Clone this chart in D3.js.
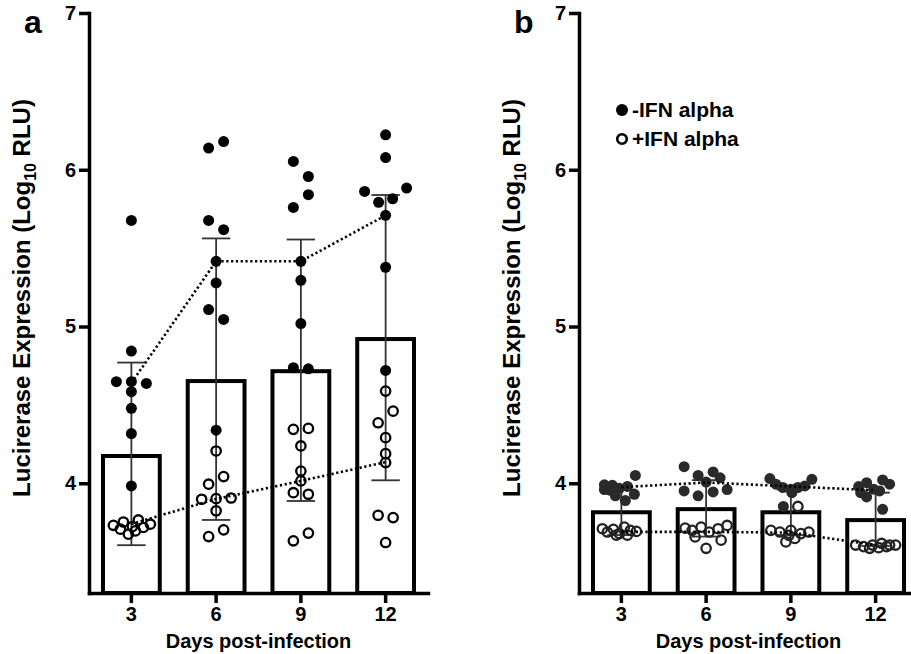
<!DOCTYPE html>
<html>
<head>
<meta charset="utf-8">
<script src="https://cdn.jsdelivr.net/npm/d3@7/dist/d3.min.js"></script>
<style>
  body { margin: 0; background: #fff; }
  text { font-family: "Liberation Sans", Arial, sans-serif; font-weight: bold; }
</style>
</head>
<body>
<svg id="chart" width="911" height="654"></svg>
<script>
const days = ['3', '6', '9', '12'];
const yTicks = [4, 5, 6, 7];
const legendLabels = ['-IFN alpha', '+IFN alpha'];

// panel a: each point is [log10 RLU, jitter in dot widths]
const aMinus = [
  [[5.677, 0], [4.843, 0], [4.648, -1.5], [4.648, 0], [4.637, 1.5], [4.584, 0], [4.478, 0], [4.317, 0], [3.983, 0]],
  [[6.138, -0.75], [6.18, 0.75], [5.677, -0.75], [5.618, 0.75], [5.416, 0], [5.278, 0], [5.108, -0.75], [5.045, 0.75], [4.339, 0]],
  [[6.053, -0.75], [5.957, 0.75], [5.841, 0.75], [5.76, -0.75], [5.416, 0], [5.295, 0], [5.019, 0], [4.737, -0.75], [4.73, 0.75]],
  [[6.223, 0], [6.078, 0], [5.862, -2.1], [5.883, 2.1], [5.792, -0.7], [5.815, 0.7], [5.709, 0], [5.378, 0], [4.72, 0]]
];
const aPlus = [
  [[3.732, -1.8], [3.753, -0.8], [3.675, -0.3], [3.724, 0.1], [3.766, 0.7], [3.718, 1.2], [3.739, 1.9], [3.707, -1.1], [3.696, 0.4]],
  [[4.206, 0], [3.994, -0.75], [4.043, 0.75], [3.898, -1.45], [3.902, 0], [3.906, 1.5], [3.824, 0], [3.66, -0.75], [3.703, 0.75]],
  [[4.344, -0.75], [4.35, 0.75], [4.238, 0], [4.078, 0], [4.015, 0], [3.94, -0.75], [3.93, 0.75], [3.633, -0.75], [3.682, 0.75]],
  [[4.588, 0], [4.46, 0.75], [4.386, -0.75], [4.291, 0], [4.189, 0], [4.132, 0], [3.796, -0.75], [3.781, 0.75], [3.622, 0]]
];
const aMean = [4.174, 4.652, 4.715, 4.92];
const aErrLo = [3.605, 3.766, 3.887, 4.019];
const aErrHi = [4.77, 5.562, 5.555, 5.839];
const aMinusLine = [4.64, 5.416, 5.416, 5.709];
const aPlusLine = [3.74, 3.9, 4.015, 4.135];

// panel b
const bMinus = [
  [[3.99, -1.7], [3.987, -0.9], [4.05, 1.4], [3.96, -1.7], [3.968, -0.2], [3.98, 0.6], [3.92, -0.6], [3.93, 1.3], [3.89, 0.4], [3.955, -1.1]],
  [[4.106, -2.2], [4.05, -0.8], [4.072, 0.7], [4.035, 1.4], [4.008, 0], [3.96, 2.1], [3.951, -2.2], [3.92, -0.8], [3.945, 0.7]],
  [[4.03, -2.1], [4.025, 2.1], [3.994, -1.5], [3.973, -0.8], [3.962, 0], [3.973, 0.7], [3.983, 1.4], [3.94, 0.1], [3.852, -0.75]],
  [[3.979, -1.7], [4.004, -0.9], [4.021, 0.7], [3.994, 1.4], [3.962, -0.2], [3.951, 0.4], [3.913, -0.9], [3.834, 0.7], [3.94, -1.5]]
];
const bPlus = [
  [[3.689, -1.4], [3.706, -0.8], [3.679, -0.2], [3.72, 0.3], [3.7, 0.9], [3.693, 1.5], [3.669, -0.5], [3.669, 0.6], [3.71, -1.9]],
  [[3.714, -2.1], [3.7, -1.4], [3.72, -0.5], [3.689, 0.3], [3.71, 1.2], [3.731, 2.1], [3.658, -1.1], [3.637, 1.5], [3.585, 0]],
  [[3.7, -2.0], [3.689, -1.1], [3.668, -0.2], [3.648, 0.4], [3.679, 1.0], [3.689, 1.8], [3.626, -0.5], [3.7, 0], [3.852, 0.7]],
  [[3.606, -2.0], [3.596, -1.2], [3.606, -0.3], [3.616, 0.6], [3.606, 1.4], [3.585, -0.6], [3.589, 0.3], [3.596, 1.1], [3.606, 2.0]]
];
const bMean = [3.815, 3.835, 3.815, 3.765];
const bErrLo = [3.67, 3.66, 3.67, 3.6];
const bErrHi = [3.96, 4.02, 3.96, 3.94];
const bMinusLine = [3.975, 4.005, 3.98, 3.955];
const bPlusLine = [3.69, 3.69, 3.685, 3.605];

const svg = d3.select('#chart');
const dotR = 5;
const plotTop = 13, plotBottom = 593;

function drawPanel(p) {
  const x = d3.scaleBand().domain(days).range([p.left, p.left + 339])
    .paddingInner(0.33).paddingOuter(0.165);
  const y = d3.scaleLinear().domain([3.3, 7]).range([plotBottom, plotTop]);
  const g = svg.append('g');
  const cx = (i) => x(days[i]) + x.bandwidth() / 2;

  // bars
  g.selectAll('.bar').data(p.mean).join('rect')
    .attr('x', (d, i) => x(days[i]))
    .attr('y', (d) => y(d))
    .attr('width', x.bandwidth())
    .attr('height', (d) => plotBottom - y(d))
    .attr('fill', '#fff')
    .attr('stroke', '#000')
    .attr('stroke-width', 4);

  // error bars
  const capW = x.bandwidth() / 2;
  p.mean.forEach((m, i) => {
    const eg = g.append('g').attr('stroke', '#333').attr('stroke-width', 1.8);
    eg.append('line').attr('x1', cx(i)).attr('x2', cx(i))
      .attr('y1', y(p.lo[i])).attr('y2', y(p.hi[i]));
    [p.lo[i], p.hi[i]].forEach((v) => {
      eg.append('line').attr('x1', cx(i) - capW / 2).attr('x2', cx(i) + capW / 2)
        .attr('y1', y(v)).attr('y2', y(v));
    });
  });

  // points
  p.minus.forEach((grp, i) => {
    g.selectAll(null).data(grp).join('circle')
      .attr('cx', (d) => cx(i) + d[1] * dotR * 2)
      .attr('cy', (d) => y(d[0]))
      .attr('r', dotR + 0.5)
      .attr('fill', p.dotColor);
  });
  p.plus.forEach((grp, i) => {
    g.selectAll(null).data(grp).join('circle')
      .attr('cx', (d) => cx(i) + d[1] * dotR * 2)
      .attr('cy', (d) => y(d[0]))
      .attr('r', dotR - 0.3)
      .attr('fill', 'none')
      .attr('stroke', p.ringColor)
      .attr('stroke-width', 2.3);
  });

  // dotted median lines
  const line = d3.line().x((d, i) => cx(i)).y((d) => y(d));
  [p.minusLine, p.plusLine].forEach((vals) => {
    g.append('path').attr('d', line(vals))
      .attr('fill', 'none').attr('stroke', '#000')
      .attr('stroke-width', 2.6).attr('stroke-dasharray', '2.2,2.6');
  });

  // axes
  const yAxis = g.append('g').attr('transform', `translate(${p.left},0)`)
    .call(d3.axisLeft(y).tickValues(yTicks).tickFormat(d3.format('d'))
      .tickSize(10).tickSizeOuter(0).tickPadding(3));
  const xAxis = g.append('g').attr('transform', `translate(0,${plotBottom})`)
    .call(d3.axisBottom(x).tickSize(10).tickSizeOuter(0).tickPadding(4));
  [yAxis, xAxis].forEach((a) => {
    a.selectAll('path, line').attr('stroke', '#000').attr('stroke-width', 3.5);
    a.select('.domain').attr('stroke-linecap', 'square');
    a.selectAll('text').attr('font-size', 20).attr('fill', '#000')
      .attr('font-family', '"Liberation Sans", Arial, sans-serif').attr('font-weight', 'bold');
  });

  g.append('text')
    .attr('x', p.left + 339 / 2).attr('y', 648)
    .attr('text-anchor', 'middle').attr('font-size', 20)
    .text('Days post-infection');

  const yt = g.append('text')
    .attr('transform', `translate(${p.left - 59},${298}) rotate(-90)`)
    .attr('text-anchor', 'middle').attr('font-size', 24);
  yt.append('tspan').text('Lucirerase Expression (Log');
  yt.append('tspan').attr('font-size', 16).attr('dy', 6).text('10');
  yt.append('tspan').attr('dy', -6).text(' RLU)');

  g.append('text').attr('x', p.left - 65).attr('y', 33)
    .attr('font-size', 32).text(p.letter);
}

drawPanel({
  left: 89, letter: 'a', mean: aMean, lo: aErrLo, hi: aErrHi,
  minus: aMinus, plus: aPlus, minusLine: aMinusLine, plusLine: aPlusLine,
  dotColor: '#000', ringColor: '#000'
});
drawPanel({
  left: 579, letter: 'b', mean: bMean, lo: bErrLo, hi: bErrHi,
  minus: bMinus, plus: bPlus, minusLine: bMinusLine, plusLine: bPlusLine,
  dotColor: '#2a2a2a', ringColor: '#222'
});

// legend
const legend = svg.append('g').attr('transform', 'translate(622,110)');
legendLabels.forEach((label, i) => {
  const row = legend.append('g').attr('transform', `translate(0,${i * 29})`);
  row.append('circle').attr('r', i === 0 ? 6 : 4.8)
    .attr('fill', i === 0 ? '#000' : 'none')
    .attr('stroke', i === 0 ? 'none' : '#000').attr('stroke-width', 2.6);
  row.append('text').attr('x', 10).attr('y', 7).attr('font-size', 21).text(label);
});
</script>
</body>
</html>
